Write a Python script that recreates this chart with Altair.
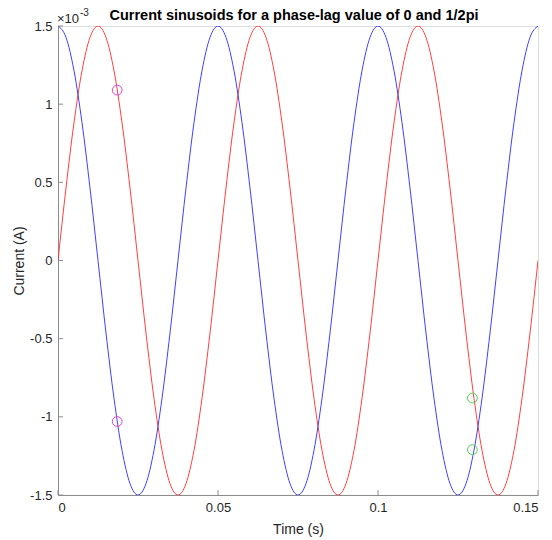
import altair as alt
import pandas as pd

# time samples (s)
time = [round(i * 0.0025, 4) for i in range(61)]

# red curve (phase lag 0), units of 1e-3 A
red = [0, 0.464, 0.882, 1.214, 1.427, 1.5, 1.427, 1.214, 0.882, 0.464,
       0, -0.464, -0.882, -1.214, -1.427, -1.5, -1.427, -1.214, -0.882, -0.464,
       0, 0.464, 0.882, 1.214, 1.427, 1.5, 1.427, 1.214, 0.882, 0.464,
       0, -0.464, -0.882, -1.214, -1.427, -1.5, -1.427, -1.214, -0.882, -0.464,
       0, 0.464, 0.882, 1.214, 1.427, 1.5, 1.427, 1.214, 0.882, 0.464,
       0, -0.464, -0.882, -1.214, -1.427, -1.5, -1.427, -1.214, -0.882, -0.464,
       0]

# blue curve (phase lag 1/2 pi), units of 1e-3 A
blue = [1.5, 1.427, 1.214, 0.882, 0.464, 0, -0.464, -0.882, -1.214, -1.427,
        -1.5, -1.427, -1.214, -0.882, -0.464, 0, 0.464, 0.882, 1.214, 1.427,
        1.5, 1.427, 1.214, 0.882, 0.464, 0, -0.464, -0.882, -1.214, -1.427,
        -1.5, -1.427, -1.214, -0.882, -0.464, 0, 0.464, 0.882, 1.214, 1.427,
        1.5, 1.427, 1.214, 0.882, 0.464, 0, -0.464, -0.882, -1.214, -1.427,
        -1.5, -1.427, -1.214, -0.882, -0.464, 0, 0.464, 0.882, 1.214, 1.427,
        1.5]

# marker circles
magenta_t = [0.0185, 0.0185]
magenta_v = [1.09, -1.03]
green_t = [0.1295, 0.1295]
green_v = [-0.88, -1.21]

x_ticks = [0, 0.05, 0.1, 0.15]
y_ticks = [-1.5, -1, -0.5, 0, 0.5, 1, 1.5]

TITLE = "Current sinusoids for a phase-lag value of 0 and 1/2pi"

W, H = 480, 469
FONT = "Liberation Sans"
AXC = "#8c8c8c"
TXT = "#262626"

red_df = pd.DataFrame({"t": time, "v": red})
blue_df = pd.DataFrame({"t": time, "v": blue})
mag_df = pd.DataFrame({"t": magenta_t, "v": magenta_v})
grn_df = pd.DataFrame({"t": green_t, "v": green_v})
xt = pd.DataFrame({"t": x_ticks})
yt = pd.DataFrame({"v": y_ticks})
one = pd.DataFrame({"a": [1]})

xs = alt.Scale(domain=[0, 0.15], nice=False, zero=False)
ys = alt.Scale(domain=[-1.5, 1.5], nice=False, zero=False)

xaxis = alt.Axis(values=x_ticks, title="Time (s)", ticks=False, grid=False,
                 labelExpr="toString(datum.value)", labelPadding=6,
                 domainColor=AXC, labelColor=TXT, labelFontSize=13,
                 titleFontSize=14, titleFontWeight="normal", titleColor=TXT,
                 labelFont=FONT, titleFont=FONT, titlePadding=8)
yaxis = alt.Axis(values=y_ticks, title="Current (A)", ticks=False, grid=False,
                 labelExpr="toString(datum.value)", labelPadding=6,
                 domainColor=AXC, labelColor=TXT, labelFontSize=13,
                 titleFontSize=14, titleFontWeight="normal", titleColor=TXT,
                 labelFont=FONT, titleFont=FONT, titlePadding=3)

red_line = alt.Chart(red_df).mark_line(strokeWidth=0.9, interpolate="monotone",
                                       clip=True, color="#ff2a2a").encode(
    x=alt.X("t:Q", scale=xs, axis=xaxis),
    y=alt.Y("v:Q", scale=ys, axis=yaxis),
)
blue_line = alt.Chart(blue_df).mark_line(strokeWidth=0.9, interpolate="monotone",
                                         clip=True, color="#2a2aff").encode(
    x=alt.X("t:Q", scale=xs), y=alt.Y("v:Q", scale=ys))

mag = alt.Chart(mag_df).mark_point(shape="circle", filled=False, size=95,
                                   strokeWidth=1, opacity=1, color="#e040e0").encode(
    x=alt.X("t:Q", scale=xs), y=alt.Y("v:Q", scale=ys))
grn = alt.Chart(grn_df).mark_point(shape="circle", filled=False, size=95,
                                   strokeWidth=1, opacity=1, color="#50d050").encode(
    x=alt.X("t:Q", scale=xs), y=alt.Y("v:Q", scale=ys))

xtick = alt.Chart(xt).mark_rule(color=AXC, strokeWidth=1).encode(
    x=alt.X("t:Q", scale=xs), y=alt.value(H), y2=alt.value(H - 5))
ytick = alt.Chart(yt).mark_rule(color=AXC, strokeWidth=1).encode(
    y=alt.Y("v:Q", scale=ys), x=alt.value(0), x2=alt.value(5))

exp1 = alt.Chart(one).mark_text(
    text="×10", align="left", baseline="alphabetic", fontSize=13, font=FONT,
    color=TXT).encode(x=alt.value(-1), y=alt.value(-3))
exp2 = alt.Chart(one).mark_text(
    text="-3", align="left", baseline="alphabetic", fontSize=10, font=FONT,
    color=TXT).encode(x=alt.value(22), y=alt.value(-10))
title = alt.Chart(one).mark_text(
    text=TITLE, align="center", baseline="alphabetic", fontSize=14.5,
    fontWeight="bold", font=FONT, color="#000000").encode(
    x=alt.value(236), y=alt.value(-6))

chart = alt.layer(red_line, blue_line, mag, grn, xtick, ytick, exp1, exp2, title).properties(
    width=W, height=H,
    autosize=alt.AutoSizeParams(type="none"),
    padding={"left": 50, "top": 18, "right": 6, "bottom": 44},
).configure_view(stroke=None).configure(background="white")

chart.save("out.html", embed_options={"renderer": "svg", "actions": False})
